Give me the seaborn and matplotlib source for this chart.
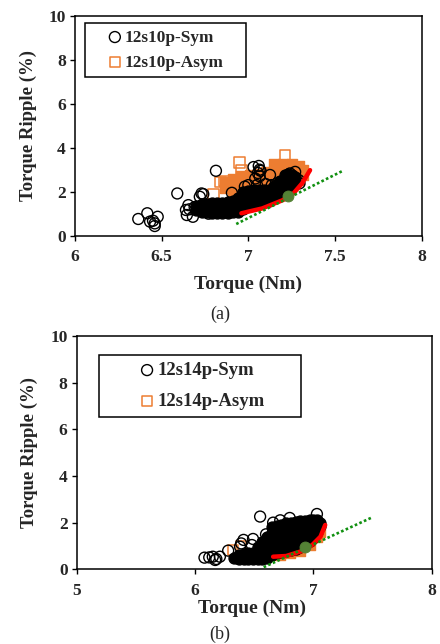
import matplotlib
matplotlib.use("Agg")
import matplotlib.pyplot as plt
import seaborn as sns

# panel (a), 12s10p
a_sym_core_x = [6.70,6.70,6.73,6.73,6.73,6.76,6.76,6.76,6.79,6.79,6.79,6.82,6.82,6.82,6.85,6.85,6.85,6.88,6.88,6.88,6.91,6.91,6.91,6.94,6.94,6.94,
                6.97,6.97,6.97,6.97,7.0,7.0,7.0,7.0,7.03,7.03,7.03,7.03,7.06,7.06,7.06,7.06,7.09,7.09,7.09,7.09,7.12,7.12,7.12,7.12,
                7.15,7.15,7.15,7.15,7.18,7.18,7.18,7.18,7.21,7.21,7.21,7.21,7.23,7.23,7.23,7.23,7.25,7.25,7.25,7.27,7.27]
a_sym_core_y = [1.15,1.35,1.1,1.3,1.45,1.1,1.3,1.45,1.05,1.3,1.5,1.05,1.3,1.5,1.05,1.3,1.5,1.05,1.3,1.55,1.1,1.35,1.6,1.1,1.4,1.7,
                1.2,1.45,1.75,2.0,1.4,1.6,1.8,2.05,1.42,1.65,1.85,2.1,1.5,1.7,1.9,2.1,1.55,1.75,1.95,2.1,1.6,1.8,2.0,2.1,
                1.7,1.9,2.1,2.25,1.85,2.05,2.3,2.5,2.05,2.25,2.5,2.75,2.15,2.35,2.55,2.8,2.3,2.55,2.78,2.5,2.65]
a_sym_out_x = [6.365,6.417,6.477,6.433,6.46,6.46,6.45,6.59,6.813,6.654,6.64,6.645,6.68,6.73,6.74,6.72,6.77,
               7.03,7.06,7.065,7.055,7.065,7.125,6.98,7.05,7.135,7.24,7.29,7.295,6.905,7.0,7.1,7.17,7.27,6.66,6.69,7.04,7.07]
a_sym_out_y = [0.76,1.02,0.86,0.64,0.56,0.44,0.68,1.92,2.95,1.39,1.17,0.94,0.86,1.92,1.89,1.77,1.0,
               3.12,3.17,3.0,2.85,2.7,2.76,2.23,2.3,2.3,2.83,2.53,2.38,1.95,2.3,2.35,2.4,2.9,1.2,1.3,2.6,2.95]
a_asym_core_x = [6.865,6.865,6.91,6.91,6.91,6.96,6.96,6.96,7.01,7.01,7.01,7.06,7.06,7.06,7.10,7.10,7.10,
                 7.15,7.15,7.15,7.15,7.2,7.2,7.2,7.2,7.25,7.25,7.25,7.29,7.29,7.29,7.315,7.315]
a_asym_core_y = [2.45,2.15,2.6,2.3,2.0,2.7,2.4,2.1,2.75,2.45,2.15,2.8,2.5,2.2,2.9,2.55,2.25,
                 3.24,2.9,2.55,2.25,3.24,2.9,2.6,2.3,3.24,2.9,2.6,3.15,2.85,2.55,3.0,2.75]
a_asym_out_x = [6.948,7.21,6.84,6.96,6.86,6.8]
a_asym_out_y = [3.32,3.64,2.45,2.98,2.5,1.9]
a_front_x = [6.96,7.08,7.2,7.26,7.31,7.356]
a_front_y = [1.02,1.24,1.62,1.92,2.38,2.98]
a_tangent_x = [6.93,7.545]
a_tangent_y = [0.53,2.95]
a_opt_x = [7.23]
a_opt_y = [1.80]

# panel (b), 12s14p
b_sym_core_x = [6.33,6.37,6.37,6.41,6.41,6.45,6.45,6.49,6.49,6.53,6.53,6.53,6.57,6.57,6.57,6.57,6.61,6.61,6.61,6.61,6.61,
                6.65,6.65,6.65,6.65,6.65,6.65,6.69,6.69,6.69,6.69,6.69,6.69,6.73,6.73,6.73,6.73,6.73,6.73,
                6.77,6.77,6.77,6.77,6.77,6.77,6.81,6.81,6.81,6.81,6.81,6.81,6.85,6.85,6.85,6.85,6.85,6.85,
                6.89,6.89,6.89,6.89,6.89,6.89,6.93,6.93,6.93,6.93,6.93,6.93,6.97,6.97,6.97,6.97,6.97,
                7.0,7.0,7.0,7.0,7.03,7.03,7.03,7.06,7.06]
b_sym_core_y = [0.47,0.45,0.62,0.45,0.65,0.45,0.68,0.45,0.72,0.45,0.7,0.95,0.45,0.7,0.95,1.15,0.5,0.75,1.0,1.25,1.4,
                0.62,0.85,1.05,1.3,1.55,1.8,0.7,0.9,1.1,1.35,1.6,1.85,0.75,0.95,1.15,1.35,1.6,1.9,
                0.8,1.0,1.2,1.4,1.7,1.98,0.82,1.05,1.25,1.45,1.75,2.0,0.87,1.1,1.3,1.5,1.8,2.03,
                0.95,1.15,1.35,1.55,1.8,2.05,1.05,1.2,1.4,1.6,1.85,2.08,1.2,1.35,1.55,1.8,2.1,
                1.35,1.55,1.8,2.1,1.6,1.85,2.1,1.85,2.0]
b_sym_out_x = [6.55,6.08,6.12,6.15,6.18,6.21,6.17,6.28,6.39,6.41,6.49,6.48,6.38,6.66,7.03,6.6,6.72,6.8]
b_sym_out_y = [2.26,0.5,0.51,0.54,0.44,0.54,0.4,0.8,1.11,1.26,1.3,1.04,0.97,2.0,2.37,1.5,2.1,2.2]
b_asym_core_x = [6.72,6.8,6.89,6.97,7.03,7.06]
b_asym_core_y = [0.62,0.68,0.8,1.05,1.4,1.6]
b_asym_out_x = [6.32,6.39]
b_asym_out_y = [0.83,0.97]
b_front_x = [6.66,6.77,6.89,6.99,7.06,7.1]
b_front_y = [0.54,0.57,0.76,1.04,1.4,1.9]
b_tangent_x = [6.58,7.49]
b_tangent_y = [0.09,2.21]
b_opt_x = [6.93]
b_opt_y = [0.94]

y_ticks = [0,2,4,6,8,10]
a_x_ticks = [6,6.5,7,7.5,8]
a_x_labels = ["6","6.5","7","7.5","8"]
b_x_ticks = [5,6,7,8]
b_x_labels = ["5","6","7","8"]

sns.set_style("ticks")
plt.rcParams["font.family"] = ["Liberation Serif", "DejaVu Serif"]
plt.rcParams["font.weight"] = "bold"
plt.rcParams["axes.labelweight"] = "bold"

W, H = 440, 644
ORANGE = "#ED7D31"
fig = plt.figure(figsize=(W/100, H/100), dpi=100)

def panel(box, sym_core, sym_out, asym_core, asym_out, front, tangent, opt, names, xlim, xticks, xlabels, leg_box, leg_font, leg_space, leg_pad, leg_len, leg_text):
    left, top, right, bottom = box
    ax = fig.add_axes([left/W, 1-bottom/H, (right-left)/W, (bottom-top)/H])
    sns.scatterplot(x=asym_core[0], y=asym_core[1], marker="s", s=56, color=ORANGE, edgecolor=ORANGE, linewidth=1, ax=ax, zorder=2)
    sns.scatterplot(x=asym_out[0], y=asym_out[1], marker="s", s=56, facecolor="none", edgecolor=ORANGE, linewidth=1.1, ax=ax, zorder=2, label=names[1])
    sns.scatterplot(x=sym_core[0], y=sym_core[1], marker="o", s=62, color="black", edgecolor="black", linewidth=1, ax=ax, zorder=3)
    sns.scatterplot(x=sym_out[0], y=sym_out[1], marker="o", s=62, facecolor="none", edgecolor="black", linewidth=1, ax=ax, zorder=3, label=names[0])
    sns.lineplot(x=front[0], y=front[1], color="#FF0000", linewidth=3.2, sort=False, ax=ax, zorder=4)
    sns.lineplot(x=tangent[0], y=tangent[1], color="#109010", linewidth=1.9, linestyle=(0,(1,0.9)), sort=False, ax=ax, zorder=5)
    sns.scatterplot(x=opt[0], y=opt[1], marker="o", s=62, color="#548235", edgecolor="#548235", ax=ax, zorder=6)
    ax.set_xlim(*xlim)
    ax.set_ylim(0, 10)
    ax.set_xticks(xticks)
    ax.set_xticklabels(xlabels)
    ax.set_yticks(y_ticks)
    ax.tick_params(labelsize=12.5, length=3.6, width=1, color="black", pad=3)
    ax.tick_params(axis="x", pad=6)
    for s in ax.spines.values():
        s.set_linewidth(1.1)
        s.set_color("black")
    ax.set_ylabel("Torque Ripple (%)", fontsize=13.5)
    ax.set_xlabel("Torque (Nm)", fontsize=14)
    h, l = ax.get_legend_handles_labels()
    leg = ax.legend(h[::-1], l[::-1], loc="upper left", bbox_to_anchor=leg_box, mode="expand", borderaxespad=0, fancybox=False,
                    framealpha=1, edgecolor="black", fontsize=leg_font, labelspacing=leg_space, handletextpad=leg_text,
                    handlelength=leg_len, borderpad=leg_pad)
    leg.get_frame().set_linewidth(1.1)
    return ax

ax_a = panel((75, 15.7, 421.7, 235.7), (a_sym_core_x,a_sym_core_y), (a_sym_out_x,a_sym_out_y),
             (a_asym_core_x,a_asym_core_y), (a_asym_out_x,a_asym_out_y), (a_front_x,a_front_y),
             (a_tangent_x,a_tangent_y), (a_opt_x,a_opt_y), ("12s10p-Sym","12s10p-Asym"),
             (6,8), a_x_ticks, a_x_labels, (0.029,0.967,0.464,0), 12.4, 0.53, 0.38, 2.7, -0.78)
ax_a.xaxis.set_label_coords(0.5, -0.183)
ax_a.yaxis.set_label_coords(-0.11, 0.5)

ax_b = panel((76.7, 336, 431.7, 569.3), (b_sym_core_x,b_sym_core_y), (b_sym_out_x,b_sym_out_y),
             (b_asym_core_x,b_asym_core_y), (b_asym_out_x,b_asym_out_y), (b_front_x,b_front_y),
             (b_tangent_x,b_tangent_y), (b_opt_x,b_opt_y), ("12s14p-Sym","12s14p-Asym"),
             (5,8), b_x_ticks, b_x_labels, (0.063,0.918,0.569,0), 13.5, 0.74, 0.36, 4.4, -1.62)
ax_b.xaxis.set_label_coords(0.495, -0.13)
ax_b.yaxis.set_label_coords(-0.11, 0.5)

fig.text(220/W, 1-314/H, "(a)", ha="center", va="center", fontsize=13, fontweight="normal")
fig.text(220/W, 1-634/H, "(b)", ha="center", va="center", fontsize=13, fontweight="normal")

fig.savefig("out.png", dpi=100, facecolor="white")
